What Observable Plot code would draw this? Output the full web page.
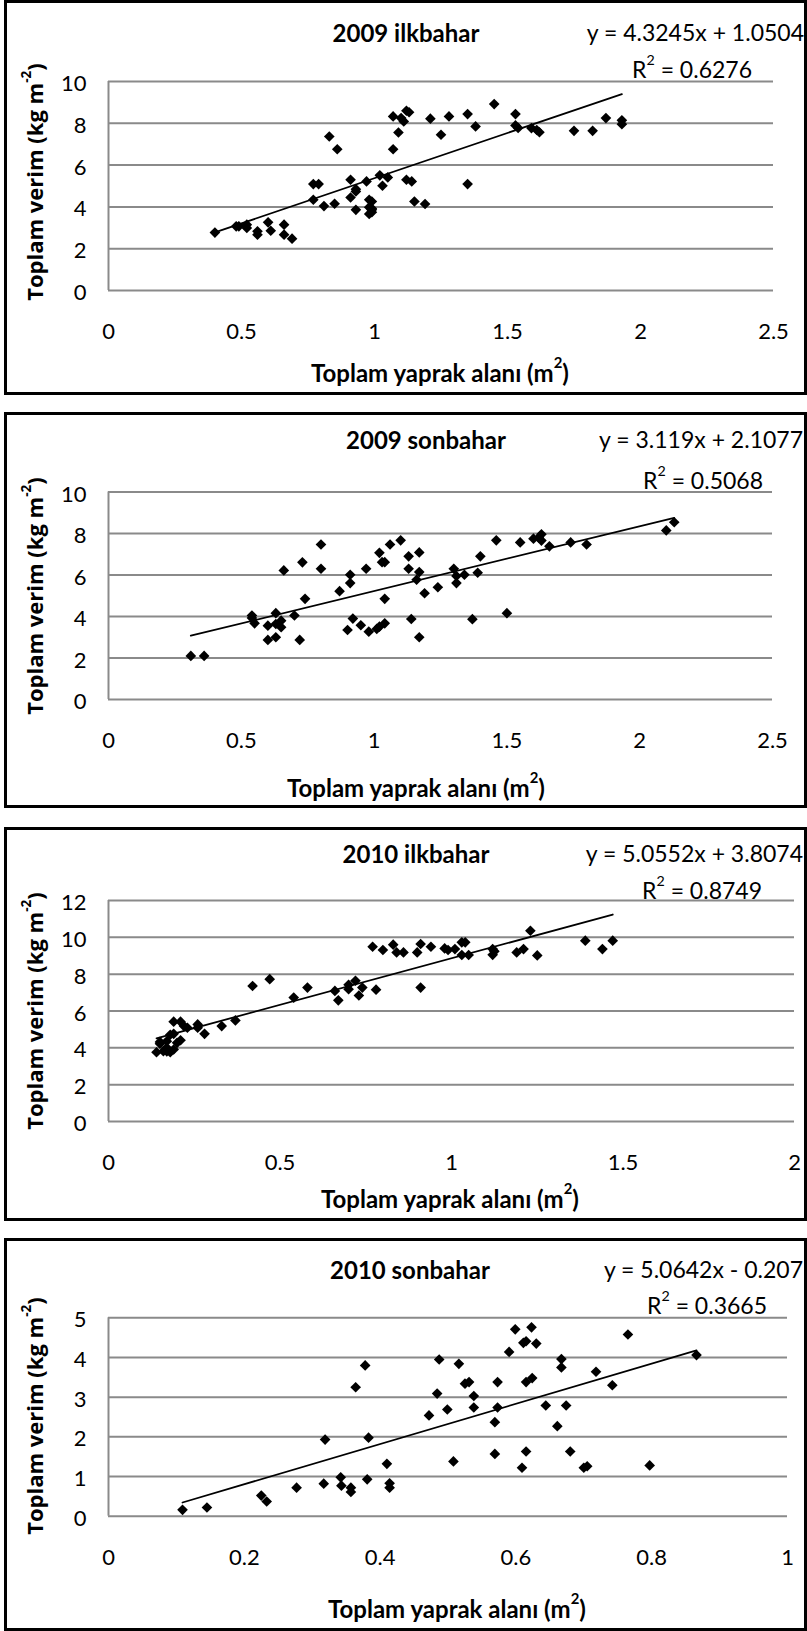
<!DOCTYPE html>
<html>
<head>
<meta charset="utf-8">
<script src="https://cdn.jsdelivr.net/npm/d3@7"></script>
<script src="https://cdn.jsdelivr.net/npm/@observablehq/plot@0.6"></script>
<style>
html,body{margin:0;padding:0;background:#fff;overflow:hidden;}
#root{position:relative;width:807px;height:1631px;overflow:hidden;background:#fff;}
.frame{position:absolute;left:4px;width:803px;border:3px solid #000;box-sizing:border-box;background:transparent;pointer-events:none;}
.chart{position:absolute;left:0;}
</style>
</head>
<body>
<div id="root"></div>
<script>
// ---------- data ----------
const titles = ["2009 ilkbahar", "2009 sonbahar", "2010 ilkbahar", "2010 sonbahar"];
const eqLabels = ["y = 4.3245x + 1.0504", "y = 3.119x + 2.1077", "y = 5.0552x + 3.8074", "y = 5.0642x - 0.207"];
const r2Values = ["0.6276", "0.5068", "0.8749", "0.3665"];
const slopes = [4.3245, 3.119, 5.0552, 5.0642];
const intercepts = [1.0504, 2.1077, 3.8074, -0.207];

const xTicks09 = [0, 0.5, 1, 1.5, 2, 2.5];
const yTicks09 = [0, 2, 4, 6, 8, 10];
const xTicks10s = [0, 0.5, 1, 1.5, 2];
const yTicks10s = [0, 2, 4, 6, 8, 10, 12];
const xTicks10f = [0, 0.2, 0.4, 0.6, 0.8, 1];
const yTicks10f = [0, 1, 2, 3, 4, 5];

const xLabel = "Toplam yaprak alanı (m";
const yLabel = "Toplam verim (kg m";

const x1 = [0.40,0.48,0.49,0.52,0.52,0.56,0.56,0.60,0.61,0.66,0.66,0.69,0.77,0.79,0.77,0.81,0.83,0.85,0.86,0.91,0.91,0.93,0.93,0.93,0.97,0.98,0.99,0.98,0.99,0.98,0.99,0.99,1.02,1.03,1.05,1.07,1.07,1.09,1.10,1.12,1.11,1.13,1.12,1.14,1.15,1.19,1.21,1.25,1.28,1.35,1.35,1.38,1.45,1.53,1.53,1.54,1.59,1.61,1.62,1.75,1.82,1.87,1.93,1.93];
const y1 = [2.77,3.07,3.07,3.15,2.99,2.83,2.67,3.26,2.86,3.15,2.67,2.48,5.09,5.09,4.34,4.04,7.37,4.15,6.76,5.30,4.45,4.85,4.74,3.86,5.22,4.34,4.26,3.98,3.86,3.66,3.75,3.92,5.51,5.01,5.41,6.76,8.33,7.56,8.25,8.60,8.09,8.53,5.30,5.22,4.26,4.14,8.22,7.45,8.33,8.44,5.09,7.85,8.92,8.44,7.90,7.78,7.77,7.68,7.57,7.64,7.64,8.25,8.14,7.96];

const x2 = [0.31,0.36,0.54,0.54,0.55,0.60,0.60,0.63,0.63,0.63,0.65,0.65,0.66,0.70,0.72,0.73,0.74,0.80,0.80,0.87,0.90,0.91,0.91,0.92,0.95,0.97,0.98,1.01,1.02,1.04,1.04,1.02,1.03,1.04,1.06,1.10,1.13,1.13,1.14,1.17,1.17,1.16,1.17,1.19,1.24,1.30,1.31,1.31,1.34,1.37,1.39,1.40,1.46,1.50,1.55,1.60,1.62,1.63,1.63,1.66,1.74,1.80,2.10,2.13];
const y2 = [2.10,2.10,4.05,3.93,3.67,2.87,3.56,4.16,3.00,3.64,3.80,3.48,6.22,4.05,2.87,6.61,4.85,7.47,6.30,5.22,3.35,6.01,5.61,3.90,3.58,6.30,3.27,3.40,3.51,3.67,4.85,7.07,6.62,6.62,7.47,7.67,6.90,6.30,3.88,7.09,6.14,5.77,3.00,5.12,5.41,6.30,5.95,5.61,6.01,3.87,6.11,6.90,7.67,4.16,7.57,7.75,7.80,7.96,7.66,7.38,7.57,7.47,8.15,8.54];

const x3 = [0.14,0.15,0.15,0.16,0.17,0.17,0.17,0.18,0.18,0.19,0.19,0.19,0.20,0.21,0.21,0.22,0.23,0.26,0.26,0.28,0.33,0.37,0.42,0.47,0.54,0.58,0.66,0.67,0.70,0.70,0.72,0.73,0.74,0.78,0.77,0.80,0.83,0.84,0.86,0.90,0.91,0.91,0.94,0.98,0.99,1.01,1.03,1.04,1.03,1.05,1.12,1.125,1.12,1.19,1.21,1.23,1.25,1.39,1.44,1.47];
const y3 = [3.76,4.22,4.32,3.82,4.00,4.36,3.81,3.76,4.71,3.91,4.76,5.42,4.27,4.41,5.42,5.18,5.09,5.27,5.09,4.76,5.18,5.49,7.36,7.73,6.73,7.27,7.09,6.58,7.42,7.18,7.64,6.84,7.27,7.16,9.49,9.31,9.60,9.18,9.18,9.18,9.64,7.27,9.49,9.40,9.31,9.36,9.73,9.73,9.04,9.04,9.36,9.24,9.05,9.18,9.36,10.36,9.02,9.82,9.36,9.82];

const x4 = [0.109,0.145,0.225,0.233,0.277,0.317,0.319,0.342,0.343,0.357,0.357,0.364,0.378,0.381,0.383,0.41,0.414,0.414,0.472,0.484,0.487,0.499,0.508,0.516,0.525,0.531,0.538,0.538,0.569,0.573,0.573,0.569,0.59,0.599,0.609,0.611,0.615,0.615,0.615,0.623,0.624,0.63,0.644,0.661,0.667,0.667,0.674,0.68,0.70,0.705,0.718,0.742,0.765,0.797,0.866];
const y4 = [0.16,0.22,0.52,0.37,0.72,0.82,1.93,0.98,0.77,0.72,0.61,3.25,3.80,0.93,1.98,1.32,0.83,0.72,2.54,3.09,3.95,2.69,1.38,3.84,3.34,3.38,3.03,2.74,2.37,3.38,2.74,1.57,4.14,4.71,1.22,4.37,4.41,3.38,1.63,4.76,3.48,4.35,2.79,2.27,3.96,3.75,2.79,1.63,1.22,1.26,3.64,3.30,4.58,1.28,4.06];

// ---------- layout ----------
const FONT = "Lato, 'Liberation Sans', sans-serif";
const YFONT = "'Open Sans', 'DejaVu Sans', sans-serif";

const panels = [
  {xs: x1, ys: y1, xT: xTicks09, yT: yTicks09,
   top: 0, h: 395, mt: 81, mb: 105, mr: 34,
   title: [406, 32], eq: [804, 32], r2: [752, 68.5], xl: [440, 372], yl: [34, 182]},
  {xs: x2, ys: y2, xT: xTicks09, yT: yTicks09,
   top: 412, h: 396, mt: 79.5, mb: 109, mr: 35,
   title: [426, 439], eq: [803, 439], r2: [763, 480], xl: [416, 787], yl: [34, 596]},
  {xs: x3, ys: y3, xT: xTicks10s, yT: yTicks10s,
   top: 827, h: 394, mt: 73, mb: 100, mr: 13,
   title: [416, 853], eq: [803, 853], r2: [762, 890], xl: [450, 1198], yl: [34, 1011]},
  {xs: x4, ys: y4, xT: xTicks10f, yT: yTicks10f,
   top: 1238, h: 393, mt: 79.3, mb: 115.3, mr: 20,
   title: [410, 1269], eq: [803, 1269], r2: [767, 1305], xl: [457, 1608], yl: [34, 1416]}
];

const root = document.getElementById("root");

function addText(sel, x, y, parts, o) {
  const size = o.size;
  const t = sel.append("text")
    .attr("x", x).attr("y", y)
    .attr("text-anchor", o.anchor || "middle")
    .attr("dominant-baseline", "central")
    .attr("font-family", o.family || FONT)
    .attr("font-size", size)
    .attr("font-weight", o.weight || "normal")
    .attr("fill", "#000");
  if (o.rotate) t.attr("transform", `rotate(-90 ${x} ${y})`);
  const shift = size * 0.42;
  let raised = false;
  for (const [str, sup] of parts) {
    const ts = t.append("tspan").text(str);
    if (sup && !raised) { ts.attr("dy", -shift).attr("font-size", size * 0.62); raised = true; }
    else if (!sup && raised) { ts.attr("dy", shift); raised = false; }
  }
  return t;
}

panels.forEach((p, i) => {
  const data = p.xs.map((x, k) => ({x, y: p.ys[k]}));
  const xmin = d3.min(p.xs), xmax = d3.max(p.xs);
  const trend = [xmin, xmax].map(x => ({x, y: slopes[i] * x + intercepts[i]}));
  const xDom = [p.xT[0], p.xT[p.xT.length - 1]];
  const yDom = [p.yT[0], p.yT[p.yT.length - 1]];

  const svg = Plot.plot({
    width: 807,
    height: p.h,
    marginTop: p.mt,
    marginBottom: p.mb,
    marginLeft: 108,
    marginRight: p.mr,
    style: {fontFamily: FONT, fontSize: "22px", background: "transparent", color: "#000", overflow: "visible"},
    x: {domain: xDom},
    y: {domain: yDom},
    marks: [
      Plot.gridY(p.yT, {stroke: "#8a8a8a", strokeOpacity: 1, strokeWidth: 2}),
      Plot.ruleX([xDom[0]], {stroke: "#8a8a8a", strokeWidth: 2}),
      Plot.axisY(p.yT, {tickSize: 0, tickPadding: 22, fontSize: 22, dy: 2.5, label: null, tickFormat: d => String(d)}),
      Plot.axisX(p.xT, {tickSize: 0, tickPadding: 33, fontSize: 22, label: null, tickFormat: d => String(d)}),
      Plot.line(trend, {x: "x", y: "y", stroke: "#000", strokeWidth: 1.8}),
      Plot.dot(data, {x: "x", y: "y", symbol: "diamond2", r: 4.8, fill: "#000", stroke: "none"})
    ]
  });
  svg.classList.add("chart");
  svg.style.top = p.top + "px";
  root.appendChild(svg);

  const s = d3.select(svg).append("g");
  const off = p.top;
  addText(s, p.title[0], p.title[1] - off, [[titles[i], false]], {size: 24, weight: "bold"});
  addText(s, p.eq[0], p.eq[1] - off, [[eqLabels[i], false]], {size: 23, anchor: "end"});
  addText(s, p.r2[0], p.r2[1] - off, [["R", false], ["2", true], [" = " + r2Values[i], false]], {size: 23, anchor: "end"});
  addText(s, p.xl[0], p.xl[1] - off, [[xLabel, false], ["2", true], [")", false]], {size: 24, weight: "bold"});
  addText(s, p.yl[0], p.yl[1] - off, [[yLabel, false], ["-2", true], [")", false]], {size: 22, weight: "bold", family: YFONT, rotate: true});

  const frame = document.createElement("div");
  frame.className = "frame";
  frame.style.top = p.top + "px";
  frame.style.height = p.h + "px";
  root.appendChild(frame);
});
</script>
</body>
</html>
